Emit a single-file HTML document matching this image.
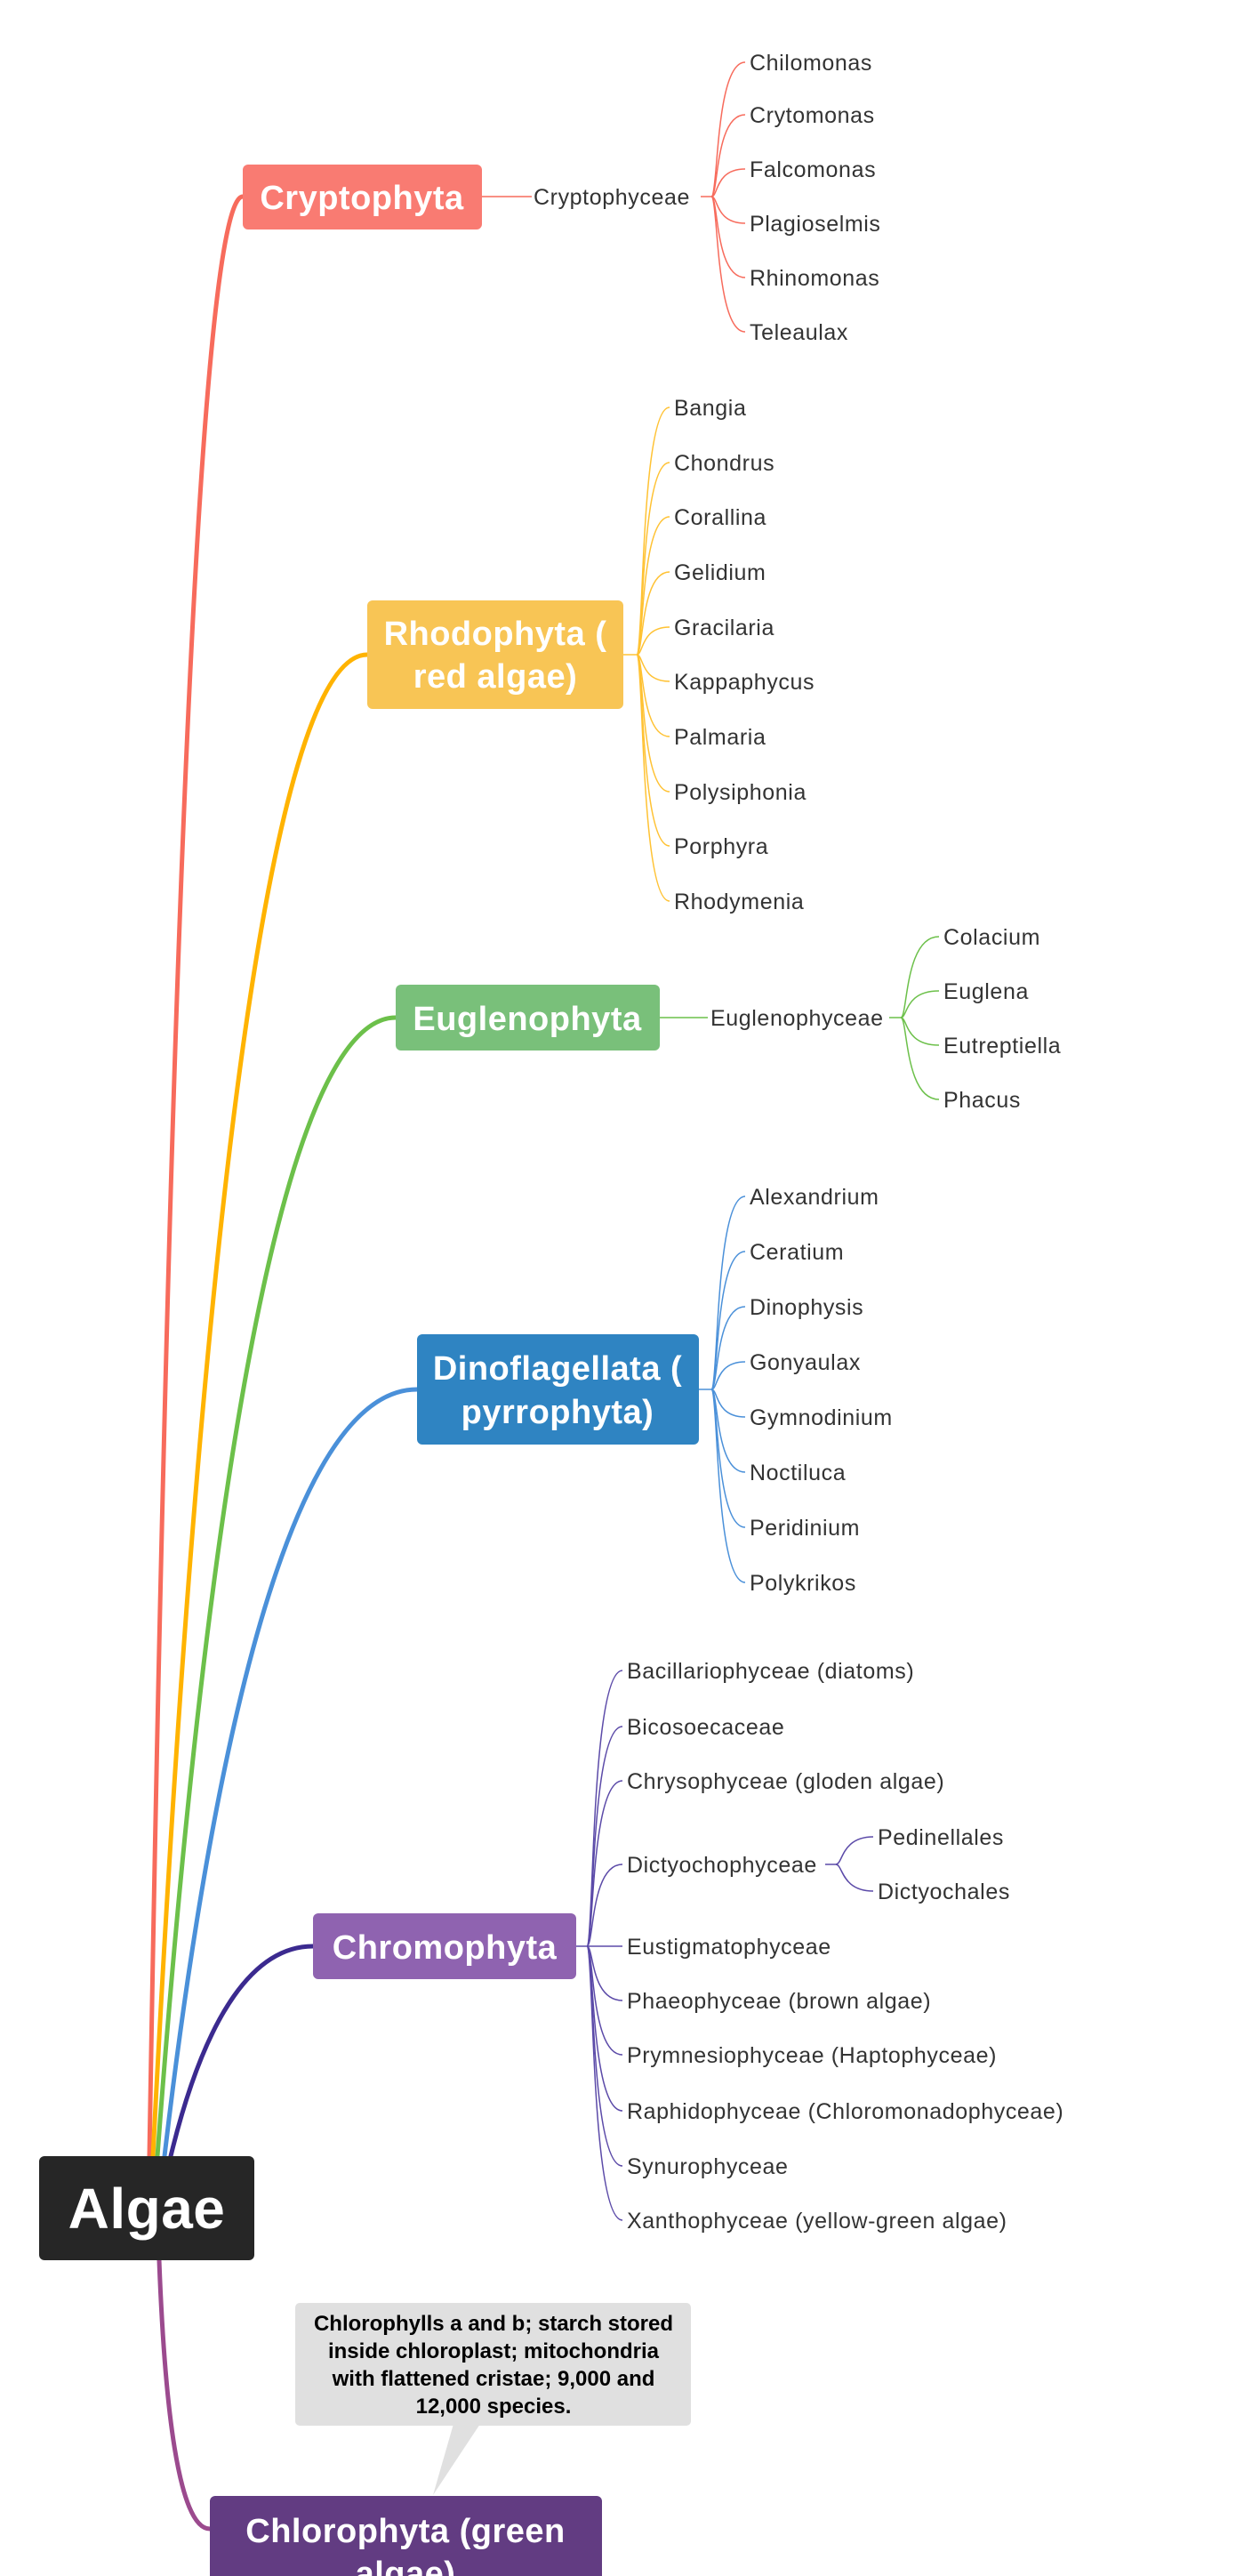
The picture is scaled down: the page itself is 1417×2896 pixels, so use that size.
<!DOCTYPE html>
<html><head><meta charset="utf-8"><style>
html,body{margin:0;padding:0;background:#fff;}
svg{display:block;}
.l{font-family:"Liberation Sans",sans-serif;font-size:25px;letter-spacing:0.6px;fill:#333;}
.b{font-family:"Liberation Sans",sans-serif;font-weight:bold;font-size:38px;letter-spacing:0.5px;fill:#fff;}
.c{font-family:"Liberation Sans",sans-serif;font-weight:bold;font-size:24px;fill:#000;}
</style></head><body>
<svg width="1417" height="2896" viewBox="0 0 1417 2896" xmlns="http://www.w3.org/2000/svg">
<g fill="none" stroke-width="5" stroke-linecap="round">
<path d="M168 2424 C194 882,231 221,273 221" stroke="#F76B5C"/>
<path d="M172 2424 C232 1242,317 736,413 736" stroke="#FFB300"/>
<path d="M177 2424 C244 1528,338 1144,445 1144" stroke="#6CC04A"/>
<path d="M185 2424 C256 1821,355 1562,469 1562" stroke="#4A90D9"/>
<path d="M192 2424 C232 2259,288 2188,352 2188" stroke="#3B2A8F"/>
<path d="M179 2541 C185 2700,200 2843,236 2843" stroke="#9B4A8E"/>
</g>
<g fill="none" stroke-width="1.5">
<g stroke="#F76B5C">
<path d="M542 221 H598 M788 221 H800"/>
<path d="M800 221 C808 221,804 70,838 70"/><path d="M800 221 C808 221,804 129,838 129"/><path d="M800 221 C808 221,804 190,838 190"/><path d="M800 221 C808 221,804 251,838 251"/><path d="M800 221 C808 221,804 312,838 312"/><path d="M800 221 C808 221,804 373,838 373"/>
</g>
<g stroke="#FFC233">
<path d="M701 736 H716"/>
<path d="M716 736 C724 736,720 458,753 458"/><path d="M716 736 C724 736,720 520,753 520"/><path d="M716 736 C724 736,720 581,753 581"/><path d="M716 736 C724 736,720 643,753 643"/><path d="M716 736 C724 736,720 705,753 705"/><path d="M716 736 C724 736,720 766,753 766"/><path d="M716 736 C724 736,720 828,753 828"/><path d="M716 736 C724 736,720 890,753 890"/><path d="M716 736 C724 736,720 951,753 951"/><path d="M716 736 C724 736,720 1013,753 1013"/>
</g>
<g stroke="#6CC04A">
<path d="M742 1144 H796 M1000 1144 H1013"/>
<path d="M1013 1144 C1021 1144,1017 1053,1056 1053"/><path d="M1013 1144 C1021 1144,1017 1114,1056 1114"/><path d="M1013 1144 C1021 1144,1017 1175,1056 1175"/><path d="M1013 1144 C1021 1144,1017 1236,1056 1236"/>
</g>
<g stroke="#4A90D9">
<path d="M786 1562 H800"/>
<path d="M800 1562 C808 1562,804 1345,838 1345"/><path d="M800 1562 C808 1562,804 1407,838 1407"/><path d="M800 1562 C808 1562,804 1469,838 1469"/><path d="M800 1562 C808 1562,804 1531,838 1531"/><path d="M800 1562 C808 1562,804 1593,838 1593"/><path d="M800 1562 C808 1562,804 1655,838 1655"/><path d="M800 1562 C808 1562,804 1717,838 1717"/><path d="M800 1562 C808 1562,804 1779,838 1779"/>
</g>
<g stroke="#5B4AA8">
<path d="M648 2188 H660"/>
<path d="M660 2188 C668 2188,664 1878,700 1878"/><path d="M660 2188 C668 2188,664 1941,700 1941"/><path d="M660 2188 C668 2188,664 2002,700 2002"/><path d="M660 2188 C668 2188,664 2096,700 2096"/><path d="M660 2188 H700"/><path d="M660 2188 C668 2188,664 2249,700 2249"/><path d="M660 2188 C668 2188,664 2310,700 2310"/><path d="M660 2188 C668 2188,664 2373,700 2373"/><path d="M660 2188 C668 2188,664 2435,700 2435"/><path d="M660 2188 C668 2188,664 2496,700 2496"/>
<path d="M928 2096 H940"/>
<path d="M940 2096 C948 2096,946 2065,982 2065"/><path d="M940 2096 C948 2096,946 2126,982 2126"/>
</g>
</g>
<!-- boxes -->
<rect x="273" y="185" width="269" height="73" rx="6" fill="#F97B72"/>
<text class="b" x="407" y="235" text-anchor="middle">Cryptophyta</text>
<rect x="413" y="675" width="288" height="122" rx="6" fill="#F8C555"/>
<text class="b" x="557" y="725" text-anchor="middle">Rhodophyta (</text>
<text class="b" x="557" y="773" text-anchor="middle">red algae)</text>
<rect x="445" y="1107" width="297" height="74" rx="6" fill="#79C07A"/>
<text class="b" x="593" y="1158" text-anchor="middle">Euglenophyta</text>
<rect x="469" y="1500" width="317" height="124" rx="6" fill="#2F84C2"/>
<text class="b" x="627" y="1551" text-anchor="middle">Dinoflagellata (</text>
<text class="b" x="627" y="1600" text-anchor="middle">pyrrophyta)</text>
<rect x="352" y="2151" width="296" height="74" rx="6" fill="#8F63B0"/>
<text class="b" x="500" y="2202" text-anchor="middle">Chromophyta</text>
<rect x="44" y="2424" width="242" height="117" rx="6" fill="#262626"/>
<text class="b" x="165" y="2505" text-anchor="middle" style="font-size:64px">Algae</text>
<rect x="236" y="2806" width="441" height="120" rx="6" fill="#623C82"/>
<text class="b" x="456" y="2858" text-anchor="middle">Chlorophyta (green</text>
<text class="b" x="456" y="2906" text-anchor="middle">algae)</text>
<!-- callout -->
<path d="M510 2725 L540 2725 L487 2805 Z" fill="#E0E0E0"/>
<rect x="332" y="2589" width="445" height="138" rx="5" fill="#E0E0E0"/>
<text class="c" x="555" y="2620" text-anchor="middle">Chlorophylls a and b; starch stored</text>
<text class="c" x="555" y="2651" text-anchor="middle">inside chloroplast; mitochondria</text>
<text class="c" x="555" y="2682" text-anchor="middle">with flattened cristae; 9,000 and</text>
<text class="c" x="555" y="2713" text-anchor="middle">12,000 species.</text>
<!-- labels -->
<text class="l" x="600" y="230">Cryptophyceae</text>
<text class="l" x="843" y="79">Chilomonas</text>
<text class="l" x="843" y="138">Crytomonas</text>
<text class="l" x="843" y="199">Falcomonas</text>
<text class="l" x="843" y="260">Plagioselmis</text>
<text class="l" x="843" y="321">Rhinomonas</text>
<text class="l" x="843" y="382">Teleaulax</text>
<text class="l" x="758" y="467">Bangia</text>
<text class="l" x="758" y="529">Chondrus</text>
<text class="l" x="758" y="590">Corallina</text>
<text class="l" x="758" y="652">Gelidium</text>
<text class="l" x="758" y="714">Gracilaria</text>
<text class="l" x="758" y="775">Kappaphycus</text>
<text class="l" x="758" y="837">Palmaria</text>
<text class="l" x="758" y="899">Polysiphonia</text>
<text class="l" x="758" y="960">Porphyra</text>
<text class="l" x="758" y="1022">Rhodymenia</text>
<text class="l" x="799" y="1153">Euglenophyceae</text>
<text class="l" x="1061" y="1062">Colacium</text>
<text class="l" x="1061" y="1123">Euglena</text>
<text class="l" x="1061" y="1184">Eutreptiella</text>
<text class="l" x="1061" y="1245">Phacus</text>
<text class="l" x="843" y="1354">Alexandrium</text>
<text class="l" x="843" y="1416">Ceratium</text>
<text class="l" x="843" y="1478">Dinophysis</text>
<text class="l" x="843" y="1540">Gonyaulax</text>
<text class="l" x="843" y="1602">Gymnodinium</text>
<text class="l" x="843" y="1664">Noctiluca</text>
<text class="l" x="843" y="1726">Peridinium</text>
<text class="l" x="843" y="1788">Polykrikos</text>
<text class="l" x="705" y="1887">Bacillariophyceae (diatoms)</text>
<text class="l" x="705" y="1950">Bicosoecaceae</text>
<text class="l" x="705" y="2011">Chrysophyceae (gloden algae)</text>
<text class="l" x="705" y="2105">Dictyochophyceae</text>
<text class="l" x="987" y="2074">Pedinellales</text>
<text class="l" x="987" y="2135">Dictyochales</text>
<text class="l" x="705" y="2197">Eustigmatophyceae</text>
<text class="l" x="705" y="2258">Phaeophyceae (brown algae)</text>
<text class="l" x="705" y="2319">Prymnesiophyceae (Haptophyceae)</text>
<text class="l" x="705" y="2382">Raphidophyceae (Chloromonadophyceae)</text>
<text class="l" x="705" y="2444">Synurophyceae</text>
<text class="l" x="705" y="2505">Xanthophyceae (yellow-green algae)</text>
</svg>
</body></html>
